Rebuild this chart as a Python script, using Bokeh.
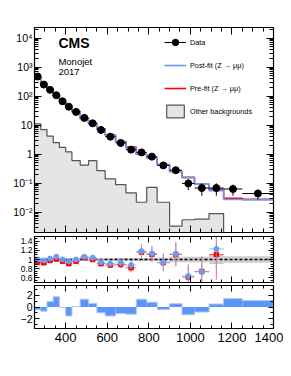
import numpy as np
from bokeh.plotting import figure
from bokeh.models import (Range1d, FixedTicker, LinearAxis, LogAxis, Label, Legend,
                          LegendItem, CustomJSTickFormatter)
from bokeh.layouts import column
from bokeh.embed import file_html
from bokeh.resources import INLINE

# ---------------- data ----------------
bin_edges = [250, 280, 310, 340, 370, 400, 430, 470, 510, 550, 590, 640, 690, 740,
             790, 840, 900, 960, 1020, 1090, 1160, 1250, 1400]
data_vals = [470, 249, 164, 107, 66, 43, 28.5, 17.7, 11.5, 6.8, 4.0, 2.43, 1.43, 1.15,
             0.82, 0.41, 0.28, 0.098, 0.068, 0.068, 0.063, 0.044]
data_err = [4.0, 2.9, 2.3, 1.9, 1.5, 1.2, 0.84, 0.67, 0.54, 0.41, 0.28, 0.22, 0.17, 0.15,
            0.13, 0.083, 0.068, 0.04, 0.031, 0.031, 0.026, 0.017]
postfit_vals = [470, 254, 161, 101, 66, 44.8, 28.5, 16.7, 11.06, 7.23, 4.40, 2.61, 1.625,
                0.975, 0.726, 0.436, 0.25, 0.153, 0.093, 0.0553, 0.0275, 0.0265]
prefit_vals = [500, 268, 167, 106, 68.8, 47.3, 29.7, 17.0, 11.5, 7.47, 4.55, 2.73, 1.74,
               0.99, 0.739, 0.441, 0.252, 0.158, 0.092, 0.0613, 0.030, 0.028]
other_bkg = [11, 7, 4.2, 2.5, 1.7, 1.2, 0.6, 0.42, 0.6, 0.27, 0.14, 0.089, 0.046, 0.022,
             0.072, 0.022, 0.0033, 0.0055, 0.0058, 0.009, 0.0, 0.0]
ratio_post = [1.00, 0.98, 1.02, 1.06, 1.00, 0.96, 1.00, 1.06, 1.04, 0.94, 0.91, 0.93, 0.88,
              1.18, 1.13, 0.94, 1.12, 0.64, 0.73, 1.23]
ratio_pre = [0.94, 0.93, 0.98, 1.01, 0.96, 0.91, 0.96, 1.04, 1.00, 0.91, 0.88, 0.89, 0.82,
             1.16, 1.11, 0.93, 1.11, 0.62, 0.74, 1.11]
ratio_err = [0.01, 0.012, 0.014, 0.018, 0.022, 0.027, 0.03, 0.04, 0.048, 0.055, 0.064, 0.08,
             0.10, 0.15, 0.17, 0.19, 0.26, 0.26, 0.33, 0.55]
band_unc = [0.02, 0.02, 0.02, 0.02, 0.02, 0.02, 0.02, 0.025, 0.025, 0.025, 0.03, 0.03, 0.03,
            0.035, 0.035, 0.04, 0.06, 0.06, 0.06, 0.10, 0.07, 0.07]
pull_vals = [-0.45, -0.7, 0.9, 1.7, -0.05, -1.5, 0.05, 1.3, 0.6, -0.97, -1.5, -1.1, -1.2,
             1.3, 0.8, -0.4, 0.55, -1.3, -0.85, 0.5, 1.4, 1.1]

x_major_ticks = [400, 600, 800, 1000, 1200, 1400]
x_minor_ticks = list(range(250, 1401, 50))
main_y_ticks = [1e-2, 1e-1, 1, 10, 1e2, 1e3, 1e4]
main_y_minor = [k * 10.0 ** n for n in range(-3, 5) for k in range(2, 10)]
ratio_ticks = [0.6, 0.8, 1.0, 1.2, 1.4]
ratio_minor = [round(0.5 + 0.05 * i, 2) for i in range(21)]
pull_ticks = [-2, 0, 2]
pull_minor = [-3, -2, -1, 0, 1, 2, 3]

# ---------------- style ----------------
FONT = "Liberation Sans"
BLUE = "#6a9cf2"
PULLBLUE = "#5c95f5"
RED = "#ff0000"

edges = np.array(bin_edges, dtype=float)
lefts, rights = edges[:-1], edges[1:]
centers = 0.5 * (lefts + rights)


def step_xy(vals, floor=None):
    v = np.array(vals, dtype=float)
    if floor is not None:
        v = np.where(v > 0, v, floor)
    xs = np.repeat(edges, 2)
    ys = np.concatenate([[floor if floor is not None else v[0]], np.repeat(v, 2),
                         [floor if floor is not None else v[-1]]])
    return xs, ys


x_range = Range1d(250, 1400)


def make_fig(height, y_range, y_type, top, bottom):
    p = figure(width=283, height=height, x_range=x_range, y_range=y_range,
               y_axis_type=y_type, output_backend="svg", toolbar_location=None,
               min_border_left=34, min_border_right=10, min_border_top=top,
               min_border_bottom=bottom)
    p.grid.visible = False
    p.outline_line_color = "black"
    p.outline_line_width = 1.2
    p.background_fill_color = "white"
    p.border_fill_color = "white"
    return p


def style_axis(ax, ticker, label_size, major=7, minor=4, standoff=3, show=True):
    ax.ticker = ticker
    ax.major_tick_in = major
    ax.major_tick_out = 0
    ax.minor_tick_in = minor
    ax.minor_tick_out = 0
    ax.major_tick_line_color = "black"
    ax.minor_tick_line_color = "black"
    ax.axis_line_color = "black"
    ax.major_label_text_font = FONT
    ax.major_label_text_font_size = label_size
    ax.major_label_standoff = standoff
    ax.major_label_text_color = "black" if show else None


def xticker():
    return FixedTicker(ticks=x_major_ticks, minor_ticks=x_minor_ticks)


def text(p, x, y, s, size, align="left", angle=0.0, bold=False):
    p.add_layout(Label(x=x, y=y, text=s, text_font=FONT, text_font_size=size,
                       text_font_style="bold" if bold else "normal", text_color="black",
                       angle=angle, text_baseline="middle", text_align=align))


# ---------------- main panel ----------------
p1 = make_fig(234, Range1d(0.002, 23000), "log", 27, 2)
style_axis(p1.xaxis[0], xticker(), "1px", standoff=0, show=False)
style_axis(p1.yaxis[0], FixedTicker(ticks=main_y_ticks, minor_ticks=main_y_minor), "10.5px",
           standoff=2)
p1.yaxis[0].formatter = CustomJSTickFormatter(code="""
const e = Math.round(Math.log10(tick));
if (e == 0) return "1";
if (e == 1) return "10";
const sup = {"-":"\u207b","0":"\u2070","1":"\u00b9","2":"\u00b2","3":"\u00b3","4":"\u2074",
             "5":"\u2075","6":"\u2076","7":"\u2077","8":"\u2078","9":"\u2079"};
return "10" + String(e).split("").map(c => sup[c]).join("");
""")
ax = LinearAxis()
style_axis(ax, xticker(), "1px", standoff=0, show=False)
p1.add_layout(ax, "above")
ax = LogAxis()
style_axis(ax, FixedTicker(ticks=main_y_ticks, minor_ticks=main_y_minor), "1px", standoff=0,
           show=False)
p1.add_layout(ax, "right")

FLOOR = 1e-5
gx, gy = step_xy(other_bkg, floor=FLOOR)
bkg = p1.patch(gx, gy, fill_color="#e5e5e5", line_color="#555555", line_width=1.2)

rx, ry = step_xy(prefit_vals)
pre_line = p1.line(rx[1:-1], ry[1:-1], line_color=RED, line_width=1.6)
bx, by = step_xy(postfit_vals)
post_line = p1.line(bx[1:-1], by[1:-1], line_color=BLUE, line_width=1.6)

dv = np.array(data_vals)
de = np.array(data_err)
hseg = p1.segment(x0=lefts, x1=rights, y0=dv, y1=dv, line_color="black", line_width=1)
vseg = p1.segment(x0=centers, x1=centers, y0=np.maximum(dv - de, 1e-5), y1=dv + de,
                  line_color="black", line_width=1)
dots = p1.scatter(centers, dv, marker="circle", size=7, fill_color="black", line_color="black")

legend = Legend(items=[
    LegendItem(label="Data", renderers=[hseg, dots]),
    LegendItem(label="Post-fit (Z \u2192 \u03bc\u03bc)", renderers=[post_line]),
    LegendItem(label="Pre-fit (Z \u2192 \u03bc\u03bc)", renderers=[pre_line]),
    LegendItem(label="Other backgrounds", renderers=[bkg]),
], location=(130, 113))
legend.border_line_color = None
legend.background_fill_alpha = 0
legend.padding = 0
legend.margin = 0
legend.spacing = 7
legend.glyph_width = 22
legend.glyph_height = 16
legend.label_height = 16
legend.label_standoff = 4
legend.label_text_font = FONT
legend.label_text_font_size = "7.3px"
legend.label_text_color = "black"
p1.add_layout(legend)

text(p1, 365, 6470, "CMS", "14px", bold=True)
text(p1, 365, 1552, "Monojet", "9.5px")
text(p1, 365, 649, "2017", "9.5px")
text(p1, 1400, 64500, "41.5 fb\u207b\u00b9 (13 TeV)", "11px", align="right")
text(p1, 134, 22000, "Events / GeV", "13px", align="right", angle=np.pi / 2)

# ---------------- ratio panel ----------------
p2 = make_fig(49, Range1d(0.5, 1.5), "linear", 2, 1)
style_axis(p2.xaxis[0], xticker(), "1px", major=6, minor=3, standoff=0, show=False)
style_axis(p2.yaxis[0], FixedTicker(ticks=ratio_ticks, minor_ticks=ratio_minor), "8.5px",
           major=5, minor=3, standoff=2)
ax = LinearAxis()
style_axis(ax, xticker(), "1px", major=6, minor=3, standoff=0, show=False)
p2.add_layout(ax, "above")
ax = LinearAxis()
style_axis(ax, FixedTicker(ticks=ratio_ticks, minor_ticks=ratio_minor), "1px", major=5,
           minor=3, standoff=0, show=False)
p2.add_layout(ax, "right")

bu = np.array(band_unc)
p2.quad(left=lefts, right=rights, bottom=1 - bu, top=1 + bu, fill_color="#cccccc",
        line_color=None)
p2.segment(x0=250, x1=1400, y0=1, y1=1, line_color="black", line_width=1.3, line_dash="3 2")

n = len(ratio_post)
rc, rl, rr = centers[:n], lefts[:n], rights[:n]
rp = np.array(ratio_pre)
rb = np.array(ratio_post)
re = np.array(ratio_err)
p2.segment(x0=rl, x1=rr, y0=rp, y1=rp, line_color="#ff5050", line_width=1)
p2.segment(x0=rc, x1=rc, y0=rp - re, y1=rp + re, line_color="#ff7070", line_width=1)
p2.scatter(rc, rp, marker="square", size=4.5, fill_color=RED, line_color=RED)
p2.segment(x0=rl, x1=rr, y0=rb, y1=rb, line_color="#8fb4f5", line_width=1, line_alpha=0.9)
p2.segment(x0=rc, x1=rc, y0=rb - re, y1=rb + re, line_color="#9b8fe0", line_width=1,
           line_alpha=0.8)
p2.scatter(rc, rb, marker="circle", size=5, fill_color=BLUE, line_color=BLUE)

text(p2, 144, 1.0, "Data / Pred.", "8.5px", align="center", angle=np.pi / 2)

# ---------------- pull panel ----------------
p3 = make_fig(77, Range1d(-3.6, 3.6), "linear", 2, 32)
style_axis(p3.xaxis[0], xticker(), "13px", major=6, minor=3, standoff=4)
style_axis(p3.yaxis[0], FixedTicker(ticks=pull_ticks, minor_ticks=pull_minor), "10.5px",
           major=5, minor=3, standoff=2)
ax = LinearAxis()
style_axis(ax, xticker(), "1px", major=6, minor=3, standoff=0, show=False)
p3.add_layout(ax, "above")
ax = LinearAxis()
style_axis(ax, FixedTicker(ticks=pull_ticks, minor_ticks=pull_minor), "1px", major=5,
           minor=3, standoff=0, show=False)
p3.add_layout(ax, "right")

pv = np.array(pull_vals)
p3.quad(left=lefts, right=rights, bottom=0, top=pv, fill_color=PULLBLUE, line_color=None)
px_, py_ = step_xy(pull_vals)
p3.line(px_[1:-1], py_[1:-1], line_color="#a9c7f7", line_width=1)

text(p3, 120, 0, "(Data-Pred.)", "8px", align="center", angle=np.pi / 2)
text(p3, 185, 0, "\u03c3", "8.5px", align="center", angle=np.pi / 2)
text(p3, 1400, -7.3, "Hadronic recoil (GeV)", "13.5px", align="right")

layout = column(p1, p2, p3)
open("out.html", "w").write(file_html(layout, INLINE))
